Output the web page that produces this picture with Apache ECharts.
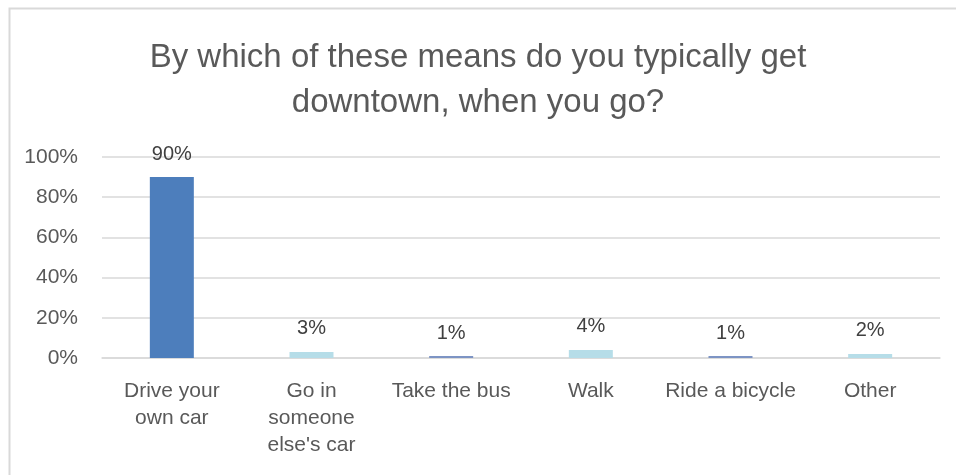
<!DOCTYPE html>
<html>
<head>
<meta charset="utf-8">
<script src="https://cdn.jsdelivr.net/npm/echarts@6/dist/echarts.min.js"></script>
<style>
  html, body { margin: 0; padding: 0; background: #fff; }
  #chart { width: 956px; height: 475px; }
</style>
</head>
<body>
<div id="chart"></div>
<script>
// Survey: how respondents usually travel downtown
const categories = [
  'Drive your\nown car',
  'Go in\nsomeone\nelse\'s car',
  'Take the bus',
  'Walk',
  'Ride a bicycle',
  'Other'
];
const shares = [90, 3, 1, 4, 1, 2];
const barColors = ['#4d7ebc', '#b6dde8', '#7d94c4', '#b6dde8', '#7d94c4', '#b6dde8'];
const yTicks = [0, 20, 40, 60, 80, 100];

const font = 'Liberation Sans, Arial, sans-serif';
const chart = echarts.init(document.getElementById('chart'), null, { renderer: 'canvas' });

chart.setOption({
  backgroundColor: '#ffffff',
  animation: false,
  title: {
    text: 'By which of these means do you typically get\ndowntown, when you go?',
    left: 'center',
    top: 30,
    textStyle: {
      fontFamily: font,
      fontSize: 33,
      fontWeight: 'normal',
      color: '#595959',
      lineHeight: 45
    }
  },
  graphic: [{
    type: 'rect',
    shape: { x: 9.5, y: 8.5, width: 1000, height: 600 },
    style: { fill: 'none', stroke: '#d9d9d9', lineWidth: 2 },
    silent: true
  }],
  grid: { left: 102, right: 16, top: 157, bottom: 117 },
  xAxis: {
    type: 'category',
    data: categories,
    axisLine: { show: true, lineStyle: { color: '#d9d9d9', width: 1.5 } },
    axisTick: { show: false },
    axisLabel: {
      interval: 0,
      margin: 20,
      fontFamily: font,
      fontSize: 21,
      color: '#595959',
      lineHeight: 27
    }
  },
  yAxis: {
    type: 'value',
    min: yTicks[0],
    max: yTicks[yTicks.length - 1],
    interval: 20,
    axisLine: { show: false },
    axisTick: { show: false },
    splitLine: { lineStyle: { color: '#d9d9d9', width: 1.5 } },
    axisLabel: {
      margin: 24,
      fontFamily: font,
      fontSize: 21,
      color: '#595959',
      formatter: v => v + '%'
    }
  },
  series: [{
    type: 'bar',
    barWidth: '31.5%',
    data: shares.map((v, i) => ({ value: v, itemStyle: { color: barColors[i] } })),
    label: {
      show: true,
      position: 'top',
      distance: 13,
      fontFamily: font,
      fontSize: 20,
      color: '#404040',
      formatter: p => p.value + '%'
    }
  }]
});
</script>
</body>
</html>
